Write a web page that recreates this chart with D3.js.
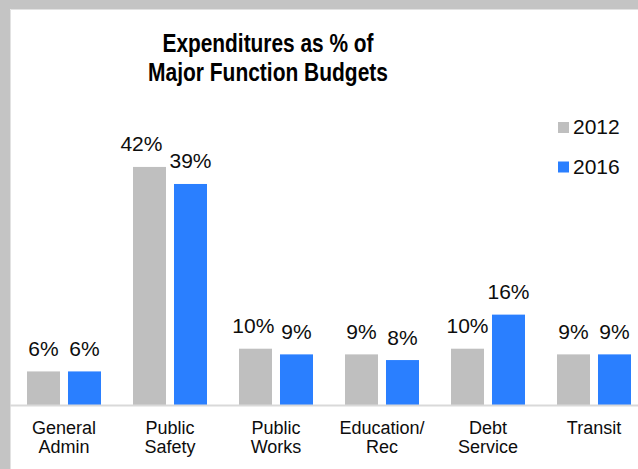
<!DOCTYPE html>
<html>
<head>
<meta charset="utf-8">
<script src="https://cdn.jsdelivr.net/npm/d3@7"></script>
<style>
  html, body { margin: 0; padding: 0; background: #fff; }
  svg { display: block; font-family: "Liberation Sans", Arial, sans-serif; }
</style>
</head>
<body>
<svg id="chart" width="638" height="469"></svg>
<script>
// Share of each major function's budget that was spent, by year
const categories = ["General Admin", "Public Safety", "Public Works", "Education/Rec", "Debt Service", "Transit"];
const seriesNames = ["2012", "2016"];
const values2012 = [6, 42, 10, 9, 10, 9];
const values2016 = [6, 39, 9, 8, 16, 9];
const seriesColors = ["#bfbfbf", "#2a7fff"];
const titleLines = ["Expenditures as % of", "Major Function Budgets"];

const W = 638, H = 469;
const svg = d3.select("#chart");

// Frame: grey border with a white chart area inside
svg.append("rect").attr("width", W).attr("height", H).attr("fill", "#c4c4c4");
svg.append("rect").attr("x", 10).attr("y", 9).attr("width", W).attr("height", H)
  .attr("fill", "#fff");
svg.append("path").attr("d", `M10.5,${H}V9.5H${W}`)
  .attr("fill", "none").attr("stroke", "#e2e2e2").attr("stroke-width", 1);

// Title
const titleWidths = [211, 240];
svg.append("g").selectAll("text").data(titleLines).join("text")
  .attr("x", 268)
  .attr("y", (d, i) => 52 + i * 29)
  .attr("text-anchor", "middle")
  .attr("font-size", 26)
  .attr("font-weight", "bold")
  .attr("fill", "#000")
  .attr("textLength", (d, i) => titleWidths[i])
  .attr("lengthAdjust", "spacingAndGlyphs")
  .text(d => d);

// Scales
const baseY = 405.5;
const x0 = d3.scaleBand().domain(categories).range([11, 647]).padding(0);
const x1 = d3.scaleBand().domain(seriesNames).range([16, 90]).paddingInner(0.195);
const y = d3.scaleLinear().domain([0, 45]).range([baseY, baseY - 45 * 5.68]);

const seriesValues = [values2012, values2016];
const rows = categories.map((c, i) => ({
  category: c,
  items: seriesNames.map((s, j) => ({ series: s, value: seriesValues[j][i], color: seriesColors[j] }))
}));

// Bars
const groups = svg.append("g").selectAll("g").data(rows).join("g")
  .attr("transform", d => `translate(${x0(d.category)},0)`);

groups.selectAll("rect").data(d => d.items).join("rect")
  .attr("x", d => x1(d.series))
  .attr("y", d => y(d.value))
  .attr("width", x1.bandwidth())
  .attr("height", d => baseY - y(d.value))
  .attr("fill", d => d.color);

// Value labels above the bars
const fmt = v => d3.format(".0f")(v) + "%";
groups.each(function(d) {
  const g = d3.select(this);
  const labels = g.selectAll("text.val").data(d.items).join("text")
    .attr("class", "val")
    .attr("x", it => x1(it.series) + x1.bandwidth() / 2)
    .attr("y", it => y(it.value) - 15.5)
    .attr("text-anchor", "middle")
    .attr("font-size", 21)
    .attr("fill", "#0d0d0d")
    .text(it => fmt(it.value));
  // Keep the pair of labels from crowding each other when they sit at similar heights
  const nodes = labels.nodes();
  const a = nodes[0], b = nodes[1];
  const ay = +a.getAttribute("y"), by = +b.getAttribute("y");
  if (Math.abs(ay - by) < 20) {
    const aRight = +a.getAttribute("x") + a.getComputedTextLength() / 2;
    const bLeft = +b.getAttribute("x") - b.getComputedTextLength() / 2;
    const gap = bLeft - aRight;
    if (gap < 7) a.setAttribute("x", +a.getAttribute("x") - (7 - gap));
  }
});

// Category axis
const axis = d3.axisBottom(x0).tickSize(0).tickSizeOuter(0).tickPadding(15.7);
const axisG = svg.append("g").attr("transform", `translate(0,${baseY})`).call(axis);
axisG.select(".domain").attr("stroke", "#d9d9d9").attr("stroke-width", 2)
  .attr("d", `M10,0H${W}`);
axisG.selectAll(".tick text")
  .attr("font-size", 18)
  .attr("font-family", "\"Liberation Sans\", Arial, sans-serif")
  .attr("fill", "#0d0d0d")
  .each(function(d) {
    const t = d3.select(this);
    const lines = d.includes("/") ? d.replace("/", "/\n").split("\n") : d.split(" ");
    t.text(null);
    lines.forEach((ln, i) => {
      t.append("tspan").attr("x", 0).attr("dy", i === 0 ? "0.71em" : 19.5).text(ln);
    });
  });

// Legend
const legend = svg.append("g").selectAll("g").data(seriesNames).join("g")
  .attr("transform", (d, i) => `translate(558,${122 + i * 39.5})`);
legend.append("rect").attr("width", 11).attr("height", 11)
  .attr("fill", (d, i) => seriesColors[i]);
legend.append("text").attr("x", 15).attr("y", 12.3)
  .attr("font-size", 21).attr("fill", "#0d0d0d").text(d => d);
</script>
</body>
</html>
